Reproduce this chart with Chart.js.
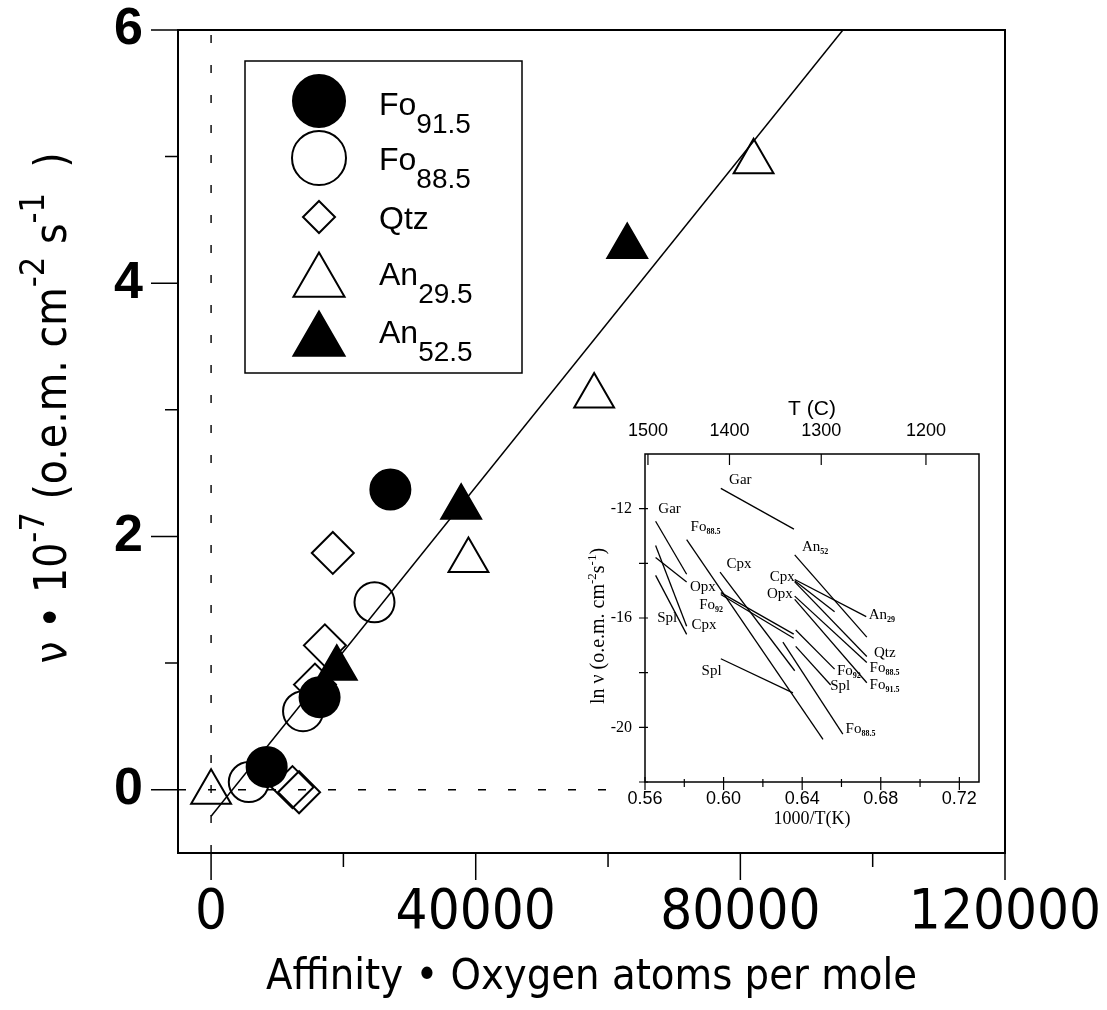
<!DOCTYPE html>
<html>
<head>
<meta charset="utf-8">
<script src="https://cdn.jsdelivr.net/npm/chart.js@4.4.0/dist/chart.umd.min.js"></script>
<style>
  html, body { margin: 0; padding: 0; background: #fff; }
  #wrap { position: relative; width: 1107px; height: 1010px; }
  canvas { position: absolute; display: block; }
  #main { left: 0; top: 0; }
  #inset { left: 580px; top: 395px; }
</style>
</head>
<body>
<div id="wrap">
  <canvas id="main" width="1107" height="1010"></canvas>
  <canvas id="inset" width="420" height="435"></canvas>
</div>
<script>
// ---- main plot: rate vs affinity * oxygen atoms ----
var fo915_x = [8400, 16400, 27100];
var fo915_y = [0.18, 0.73, 2.37];
var fo885_x = [5700, 13900, 24700];
var fo885_y = [0.06, 0.62, 1.48];
var qtz_x = [12300, 13300, 15700, 17200, 18400];
var qtz_y = [0.02, -0.02, 0.83, 1.14, 1.87];
var an295_x = [0, 38900, 57900, 82000];
var an295_y = [-0.02, 1.81, 3.11, 4.96];
var an525_x = [19000, 37800, 62900];
var an525_y = [0.96, 2.23, 4.29];
var fit_x = [0, 95500];
var fit_y = [-0.21, 6];
var zeroV_x = [0, 0];
var zeroV_y = [-0.5, 6];
var zeroH_x = [-5000, 62000];
var zeroH_y = [0, 0];

var xTickValues = [0, 20000, 40000, 60000, 80000, 100000, 120000];
var xLabelValues = [0, 40000, 80000, 120000];
var yTickValues = [0, 1, 2, 3, 4, 5, 6];
var yLabelValues = [0, 2, 4, 6];

// ---- inset: ln rate vs 1000/T ----
var inset_segments = [ // [x1, y1, x2, y2]
  [0.5986, -11.26, 0.6358, -12.75],
  [0.5654, -12.46, 0.5812, -14.40],
  [0.5654, -13.35, 0.5812, -16.30],
  [0.5654, -13.79, 0.5812, -14.68],
  [0.5654, -14.44, 0.5812, -16.60],
  [0.5812, -13.13, 0.6506, -20.44],
  [0.5982, -14.32, 0.6362, -17.93],
  [0.5986, -15.07, 0.6357, -16.59],
  [0.5986, -15.14, 0.6357, -16.74],
  [0.5986, -17.49, 0.6353, -18.74],
  [0.6302, -16.88, 0.6607, -20.25],
  [0.6367, -16.44, 0.6565, -17.87],
  [0.6367, -17.04, 0.6545, -18.45],
  [0.6362, -13.69, 0.6729, -16.70],
  [0.6362, -14.59, 0.6726, -15.95],
  [0.6362, -14.64, 0.6565, -15.77],
  [0.6362, -14.68, 0.6729, -17.41],
  [0.6362, -15.20, 0.6729, -17.63],
  [0.6362, -15.32, 0.6729, -18.37]
];
var lbl_text = ['Gar', 'Gar', 'Fo', 'An', 'Cpx', 'Cpx', 'Opx', 'Opx', 'Fo', 'Spl', 'Cpx', 'An', 'Qtz', 'Fo', 'Fo', 'Spl', 'Fo', 'Spl', 'Fo'];
var lbl_sub  = ['', '', '88.5', '52', '', '', '', '', '92', '', '', '29', '', '88.5', '92', '', '91.5', '', '88.5'];
var lbl_x = [0.6028, 0.5668, 0.5832, 0.6399, 0.6015, 0.6235, 0.5829, 0.6221, 0.5876, 0.5662, 0.5837, 0.6739, 0.6765, 0.6743, 0.6577, 0.6543, 0.6743, 0.5888, 0.6621];
var lbl_y = [-10.96, -12.01, -12.68, -13.41, -14.01, -14.52, -14.86, -15.13, -15.53, -15.99, -16.25, -15.89, -17.28, -17.83, -17.93, -18.50, -18.44, -17.93, -20.07];

var insetXMajor = [0.56, 0.60, 0.64, 0.68, 0.72];
var insetXMinor = [0.58, 0.62, 0.66, 0.70];
var insetYTicks = [-22, -20, -18, -16, -14, -12];
var insetYLabels = [-12, -16, -20];
var tempTickPos = [0.5615, 0.603, 0.6497, 0.703];
var tempTickLabel = ['1500', '1400', '1300', '1200'];

var narrow = "'Liberation Sans Narrow', 'Arial Narrow', 'DejaVu Sans Condensed', sans-serif";
var sans = "'Liberation Sans', Arial, sans-serif";
var serif = "'Liberation Serif', 'Times New Roman', serif";

function pts(xs, ys) {
  return xs.map((x, i) => ({x: x, y: ys[i]}));
}

// draws runs of text with their own size / vertical shift, returns width
function drawRich(ctx, parts, x, y, align) {
  var w = 0;
  parts.forEach(p => { ctx.font = p.font; w += ctx.measureText(p.t).width; });
  var cx = align === 'center' ? x - w / 2 : x;
  parts.forEach(p => {
    ctx.font = p.font;
    ctx.fillText(p.t, cx, y + (p.dy || 0));
    cx += ctx.measureText(p.t).width;
  });
  return w;
}

function marker(ctx, style, x, y, r, filled) {
  ctx.beginPath();
  if (style === 'circle') {
    ctx.arc(x, y, r, 0, 2 * Math.PI);
  } else if (style === 'diamond') {
    ctx.moveTo(x, y - r); ctx.lineTo(x + r, y); ctx.lineTo(x, y + r); ctx.lineTo(x - r, y); ctx.closePath();
  } else {
    var s = Math.sin(2 * Math.PI / 3) * r, c = Math.cos(2 * Math.PI / 3) * r;
    ctx.moveTo(x, y - r); ctx.lineTo(x + s, y - c); ctx.lineTo(x - s, y - c); ctx.closePath();
  }
  if (filled) { ctx.fillStyle = '#000'; ctx.fill(); }
  ctx.lineWidth = 2;
  ctx.strokeStyle = '#000';
  ctx.stroke();
}

var legendRows = [
  {style: 'circle', r: 26, filled: true, y: 101, t: 'Fo', sub: '91.5', base: 115},
  {style: 'circle', r: 27, filled: false, y: 158, t: 'Fo', sub: '88.5', base: 170},
  {style: 'diamond', r: 16, filled: false, y: 217, t: 'Qtz', sub: '', base: 229},
  {style: 'triangle', r: 29.5, filled: false, y: 282, t: 'An', sub: '29.5', base: 285},
  {style: 'triangle', r: 29.5, filled: true, y: 341, t: 'An', sub: '52.5', base: 343}
];

var mainDecor = {
  id: 'mainDecor',
  afterDraw(chart) {
    var ctx = chart.ctx, a = chart.chartArea, x = chart.scales.x, y = chart.scales.y;
    ctx.save();
    // frame
    ctx.strokeStyle = '#000';
    ctx.lineWidth = 2;
    ctx.strokeRect(a.left, a.top, a.right - a.left, a.bottom - a.top);
    // outward ticks, long for labelled ones
    ctx.lineWidth = 1.5;
    ctx.beginPath();
    xTickValues.forEach(v => {
      var px = x.getPixelForValue(v), len = xLabelValues.includes(v) ? 27 : 14;
      ctx.moveTo(px, a.bottom); ctx.lineTo(px, a.bottom + len);
    });
    yTickValues.forEach(v => {
      var py = y.getPixelForValue(v), len = yLabelValues.includes(v) ? 27 : 13;
      ctx.moveTo(a.left, py); ctx.lineTo(a.left - len, py);
    });
    ctx.stroke();

    // y title with superscripts
    ctx.fillStyle = '#000';
    ctx.textBaseline = 'alphabetic';
    ctx.translate(66, 408);
    ctx.rotate(-Math.PI / 2);
    var f = '44px ' + narrow, fs = '34px ' + narrow;
    drawRich(ctx, [
      {t: 'ν • 10', font: f}, {t: '-7', font: fs, dy: -22},
      {t: ' (o.e.m. cm', font: f}, {t: '-2', font: fs, dy: -22},
      {t: ' s', font: f}, {t: '-1', font: fs, dy: -22},
      {t: '  )', font: f}
    ], 0, 0, 'center');
    ctx.restore();

    // legend box
    ctx.save();
    ctx.strokeStyle = '#000';
    ctx.lineWidth = 1.5;
    ctx.strokeRect(245, 61, 277, 312);
    ctx.fillStyle = '#000';
    ctx.textBaseline = 'alphabetic';
    legendRows.forEach(r => {
      marker(ctx, r.style, 319, r.y, r.r, r.filled);
      ctx.fillStyle = '#000';
      drawRich(ctx, [
        {t: r.t, font: '32px ' + sans},
        {t: r.sub, font: '28px ' + sans, dy: 18}
      ], 379, r.base, 'left');
    });
    ctx.restore();
  }
};

var openStyle = {pointBorderColor: '#000', pointBackgroundColor: 'rgba(0,0,0,0)', pointBorderWidth: 2, order: 5};
var fillStyle = {pointBorderColor: '#000', pointBackgroundColor: '#000', pointBorderWidth: 2, order: 1};

new Chart(document.getElementById('main'), {
  type: 'scatter',
  data: {
    datasets: [
      {label: 'fit', data: pts(fit_x, fit_y), showLine: true, borderColor: '#000', borderWidth: 1.5, pointRadius: 0, order: 10},
      {label: 'x=0', data: pts(zeroV_x, zeroV_y), showLine: true, borderColor: '#000', borderWidth: 1.4, borderDash: [8, 22], pointRadius: 0, order: 11},
      {label: 'y=0', data: pts(zeroH_x, zeroH_y), showLine: true, borderColor: '#000', borderWidth: 1.4, borderDash: [8, 22], pointRadius: 0, order: 11},
      Object.assign({label: 'Fo88.5', data: pts(fo885_x, fo885_y), pointStyle: 'circle', pointRadius: 20}, openStyle),
      Object.assign({label: 'Qtz', data: pts(qtz_x, qtz_y), pointStyle: 'rectRot', pointRadius: 21}, openStyle),
      Object.assign({label: 'An29.5', data: pts(an295_x, an295_y), pointStyle: 'triangle', pointRadius: 23}, openStyle),
      Object.assign({label: 'Fo91.5', data: pts(fo915_x, fo915_y), pointStyle: 'circle', pointRadius: 20}, fillStyle),
      Object.assign({label: 'An52.5', data: pts(an525_x, an525_y), pointStyle: 'triangle', pointRadius: 23}, fillStyle)
    ]
  },
  options: {
    responsive: false,
    animation: false,
    layout: {autoPadding: false, padding: {top: 30, right: 102, left: 0, bottom: 0}},
    plugins: {legend: {display: false}, tooltip: {enabled: false}},
    scales: {
      x: {
        type: 'linear', min: -5000, max: 120000,
        afterBuildTicks: s => { s.ticks = xTickValues.map(v => ({value: v})); },
        afterFit: s => { s.height = 157; s.paddingLeft = 0; s.paddingRight = 0; },
        grid: {display: false, drawTicks: true, tickLength: 27},
        border: {display: false},
        ticks: {
          font: {family: narrow, size: 56}, color: '#000', padding: 0,
          maxRotation: 0, autoSkip: false,
          callback: v => xLabelValues.includes(v) ? String(v) : ''
        },
        title: {display: true, text: 'Affinity • Oxygen atoms per mole', color: '#000',
          font: {family: narrow, size: 43}, padding: {top: 0, bottom: 6}}
      },
      y: {
        type: 'linear', min: -0.5, max: 6,
        afterBuildTicks: s => { s.ticks = yTickValues.map(v => ({value: v})); },
        afterFit: s => { s.width = 178; s.paddingTop = 0; s.paddingBottom = 0; },
        grid: {display: false, drawTicks: true, tickLength: 27},
        border: {display: false},
        ticks: {
          font: {family: sans, size: 52, weight: 'bold'}, color: '#000', padding: 8,
          autoSkip: false,
          callback: v => yLabelValues.includes(v) ? String(v) : ''
        }
      }
    }
  },
  plugins: [mainDecor]
});

// ---- inset chart ----
var insetDecor = {
  id: 'insetDecor',
  afterDraw(chart) {
    var ctx = chart.ctx, a = chart.chartArea, x = chart.scales.x, y = chart.scales.y;
    ctx.save();
    ctx.strokeStyle = '#000';
    ctx.lineWidth = 1.5;
    ctx.strokeRect(a.left, a.top, a.right - a.left, a.bottom - a.top);
    ctx.lineWidth = 1.2;
    ctx.beginPath();
    insetXMajor.forEach(v => { var px = x.getPixelForValue(v); ctx.moveTo(px, a.bottom - 5); ctx.lineTo(px, a.bottom + 8); });
    insetXMinor.forEach(v => { var px = x.getPixelForValue(v); ctx.moveTo(px, a.bottom - 3); ctx.lineTo(px, a.bottom + 5); });
    tempTickPos.forEach(v => { var px = x.getPixelForValue(v); ctx.moveTo(px, a.top); ctx.lineTo(px, a.top + 11); });
    insetYTicks.forEach(v => { var py = y.getPixelForValue(v); ctx.moveTo(a.left - 6, py); ctx.lineTo(a.left + 3, py); });
    ctx.stroke();

    // curve labels
    ctx.fillStyle = '#000';
    ctx.textBaseline = 'middle';
    lbl_text.forEach((t, i) => {
      var px = x.getPixelForValue(lbl_x[i]), py = y.getPixelForValue(lbl_y[i]);
      drawRich(ctx, [
        {t: t, font: '15px ' + serif},
        {t: lbl_sub[i], font: 'bold 8px ' + serif, dy: 5}
      ], px, py, 'left');
    });

    // y title
    ctx.textBaseline = 'alphabetic';
    ctx.translate(24, (a.top + a.bottom) / 2 + 8);
    ctx.rotate(-Math.PI / 2);
    var f = '20px ' + serif, fs = '13px ' + serif;
    drawRich(ctx, [
      {t: 'ln ν (o.e.m. cm', font: f}, {t: '-2', font: fs, dy: -8},
      {t: 's', font: f}, {t: '-1', font: fs, dy: -8},
      {t: ')', font: f}
    ], 0, 0, 'center');
    ctx.restore();
  }
};

new Chart(document.getElementById('inset'), {
  type: 'scatter',
  data: {
    datasets: inset_segments.map(s => ({
      data: [{x: s[0], y: s[1]}, {x: s[2], y: s[3]}],
      showLine: true, borderColor: '#000', borderWidth: 1.3, pointRadius: 0
    }))
  },
  options: {
    responsive: false,
    animation: false,
    layout: {autoPadding: false, padding: {left: 0, right: 21, top: 0, bottom: 0}},
    plugins: {legend: {display: false}, tooltip: {enabled: false}},
    scales: {
      x: {
        type: 'linear', position: 'bottom', min: 0.56, max: 0.73,
        afterBuildTicks: s => { s.ticks = insetXMajor.map(v => ({value: v})); },
        afterFit: s => { s.height = 48; },
        grid: {display: false, drawTicks: false},
        border: {display: false},
        ticks: {font: {family: sans, size: 18}, color: '#000', padding: 6, maxRotation: 0, autoSkip: false,
          callback: v => v.toFixed(2)},
        title: {display: true, text: '1000/T(K)', color: '#000', font: {family: serif, size: 18}, padding: {top: 0, bottom: 0}}
      },
      x2: {
        type: 'linear', position: 'top', min: 0.56, max: 0.73,
        afterBuildTicks: s => { s.ticks = tempTickPos.map(v => ({value: v})); },
        afterFit: s => { s.height = 59; },
        grid: {display: false, drawTicks: false},
        border: {display: false},
        ticks: {font: {family: sans, size: 18}, color: '#000', padding: 12, maxRotation: 0, autoSkip: false,
          callback: (v, i) => tempTickLabel[i]},
        title: {display: true, text: 'T (C)', color: '#000', font: {family: sans, size: 21}, padding: {top: 2, bottom: 0}}
      },
      y: {
        type: 'linear', min: -22, max: -10,
        afterBuildTicks: s => { s.ticks = insetYTicks.map(v => ({value: v})); },
        afterFit: s => { s.width = 65; },
        grid: {display: false, drawTicks: false},
        border: {display: false},
        ticks: {font: {family: serif, size: 16}, color: '#000', padding: 13, autoSkip: false,
          callback: v => insetYLabels.includes(v) ? String(v) : ''}
      }
    }
  },
  plugins: [insetDecor]
});
</script>
</body>
</html>
